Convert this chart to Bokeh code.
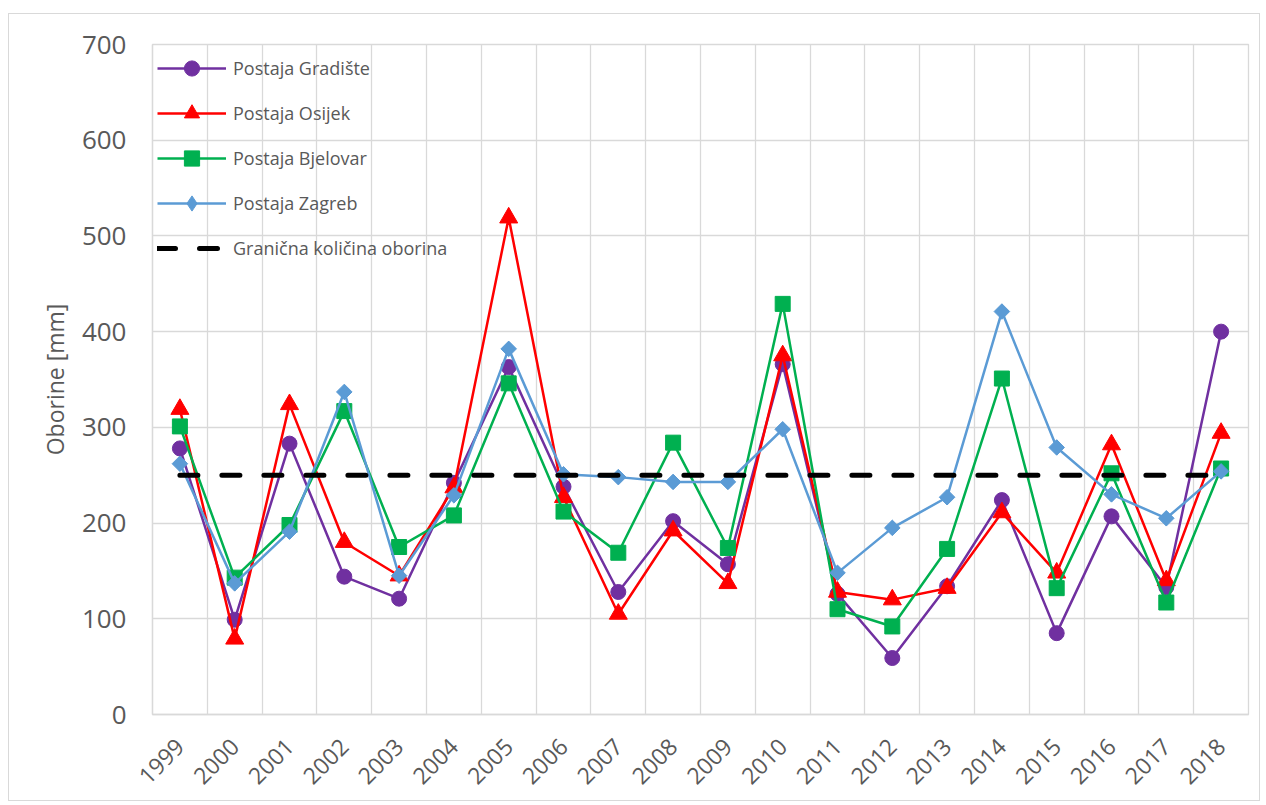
import math
from bokeh.plotting import figure
from bokeh.models import FixedTicker, Legend, LegendItem, Range1d
from bokeh.embed import file_html
from bokeh.resources import INLINE

years = ["1999", "2000", "2001", "2002", "2003", "2004", "2005", "2006", "2007", "2008",
         "2009", "2010", "2011", "2012", "2013", "2014", "2015", "2016", "2017", "2018"]
gradiste = [278, 99, 283, 144, 121, 242, 363, 238, 128, 202, 157, 366, 126, 59, 134, 224, 85, 207, 133, 400]
osijek = [319, 79, 324, 180, 145, 237, 519, 227, 105, 192, 137, 375, 128, 120, 132, 211, 148, 282, 140, 294]
bjelovar = [301, 143, 198, 317, 175, 208, 346, 212, 169, 284, 174, 429, 110, 92, 173, 351, 132, 252, 117, 257]
zagreb = [262, 137, 191, 337, 145, 229, 382, 251, 248, 243, 243, 298, 148, 195, 227, 421, 279, 230, 205, 254]
threshold = [250] * len(years)
y_ticks = [0, 100, 200, 300, 400, 500, 600, 700]

FONT = "Open Sans"
GRID = "#d9d9d9"
TXT = "#595959"

xs = [i + 0.5 for i in range(len(years))]

p = figure(width=1252, height=788, output_backend="svg", toolbar_location=None,
           x_range=Range1d(0, len(years)), y_range=Range1d(0, 700),
           min_border_left=143, min_border_right=13, min_border_top=30, min_border_bottom=88)
p.margin = (13, 0, 0, 8)
p.styles = {"border": "1px solid #d9d9d9"}

p.outline_line_color = GRID
p.outline_line_width = 1.3

# grids
p.xgrid.ticker = FixedTicker(ticks=list(range(len(years) + 1)))
p.ygrid.ticker = FixedTicker(ticks=y_ticks)
p.xgrid.grid_line_color = GRID
p.ygrid.grid_line_color = GRID
p.xgrid.grid_line_width = 1.3
p.ygrid.grid_line_width = 1.3

# axes
p.xaxis.ticker = FixedTicker(ticks=xs)
p.xaxis.major_label_overrides = {x: y for x, y in zip(xs, years)}
p.xaxis.major_label_orientation = math.pi / 4
p.xaxis.major_label_standoff = 22
p.yaxis.ticker = FixedTicker(ticks=y_ticks)
p.yaxis.major_label_standoff = 20
p.yaxis.axis_label = "Oborine [mm]"
p.yaxis.axis_label_standoff = 8
for ax in (p.xaxis[0], p.yaxis[0]):
    ax.axis_line_color = GRID
    ax.axis_line_width = 1.3
    ax.major_tick_line_color = None
    ax.minor_tick_line_color = None
    ax.major_label_text_font = FONT
    ax.major_label_text_color = TXT
p.xaxis.major_label_text_font_size = "23px"
p.yaxis.major_label_text_font_size = "26px"
p.yaxis.axis_label_text_font = FONT
p.yaxis.axis_label_text_font_size = "23px"
p.yaxis.axis_label_text_font_style = "normal"
p.yaxis.axis_label_text_color = TXT

LW = 2.5
purple, red, green, blue = "#7030A0", "#FF0000", "#00B050", "#5B9BD5"

items = []
l1 = p.line(xs, gradiste, line_color=purple, line_width=LW)
m1 = p.scatter(xs, gradiste, marker="circle", size=15, fill_color=purple, line_color=purple)
items.append(LegendItem(label="Postaja Gradište", renderers=[l1, m1]))

l2 = p.line(xs, osijek, line_color=red, line_width=LW)
m2 = p.scatter(xs, osijek, marker="triangle", size=18, fill_color=red, line_color=red)
items.append(LegendItem(label="Postaja Osijek", renderers=[l2, m2]))

l3 = p.line(xs, bjelovar, line_color=green, line_width=LW)
m3 = p.scatter(xs, bjelovar, marker="square", size=15, fill_color=green, line_color=green)
items.append(LegendItem(label="Postaja Bjelovar", renderers=[l3, m3]))

l4 = p.line(xs, zagreb, line_color=blue, line_width=LW)
# diamond (used for the legend swatch); fully covered by the rotated square below
m4_leg = p.scatter(xs, zagreb, marker="diamond", size=14, fill_color=blue, line_color=blue)
m4 = p.scatter(xs, zagreb, marker="square", size=11, angle=math.pi / 4,
               fill_color=blue, line_color=blue)
items.append(LegendItem(label="Postaja Zagreb", renderers=[l4, m4_leg]))

l5 = p.line(xs, threshold, line_color="black", line_width=5, line_dash="18 24", line_cap="round")
items.append(LegendItem(label="Granična količina oborina", renderers=[l5]))

legend = Legend(items=items, location="top_left", margin=5, padding=8,
                glyph_width=69, glyph_height=38, label_height=38, spacing=7,
                label_standoff=7, label_text_font=FONT, label_text_font_size="18px",
                label_text_color=TXT, background_fill_alpha=0, border_line_color=None)
p.add_layout(legend, "center")

open("out.html", "w").write(file_html(p, INLINE))
